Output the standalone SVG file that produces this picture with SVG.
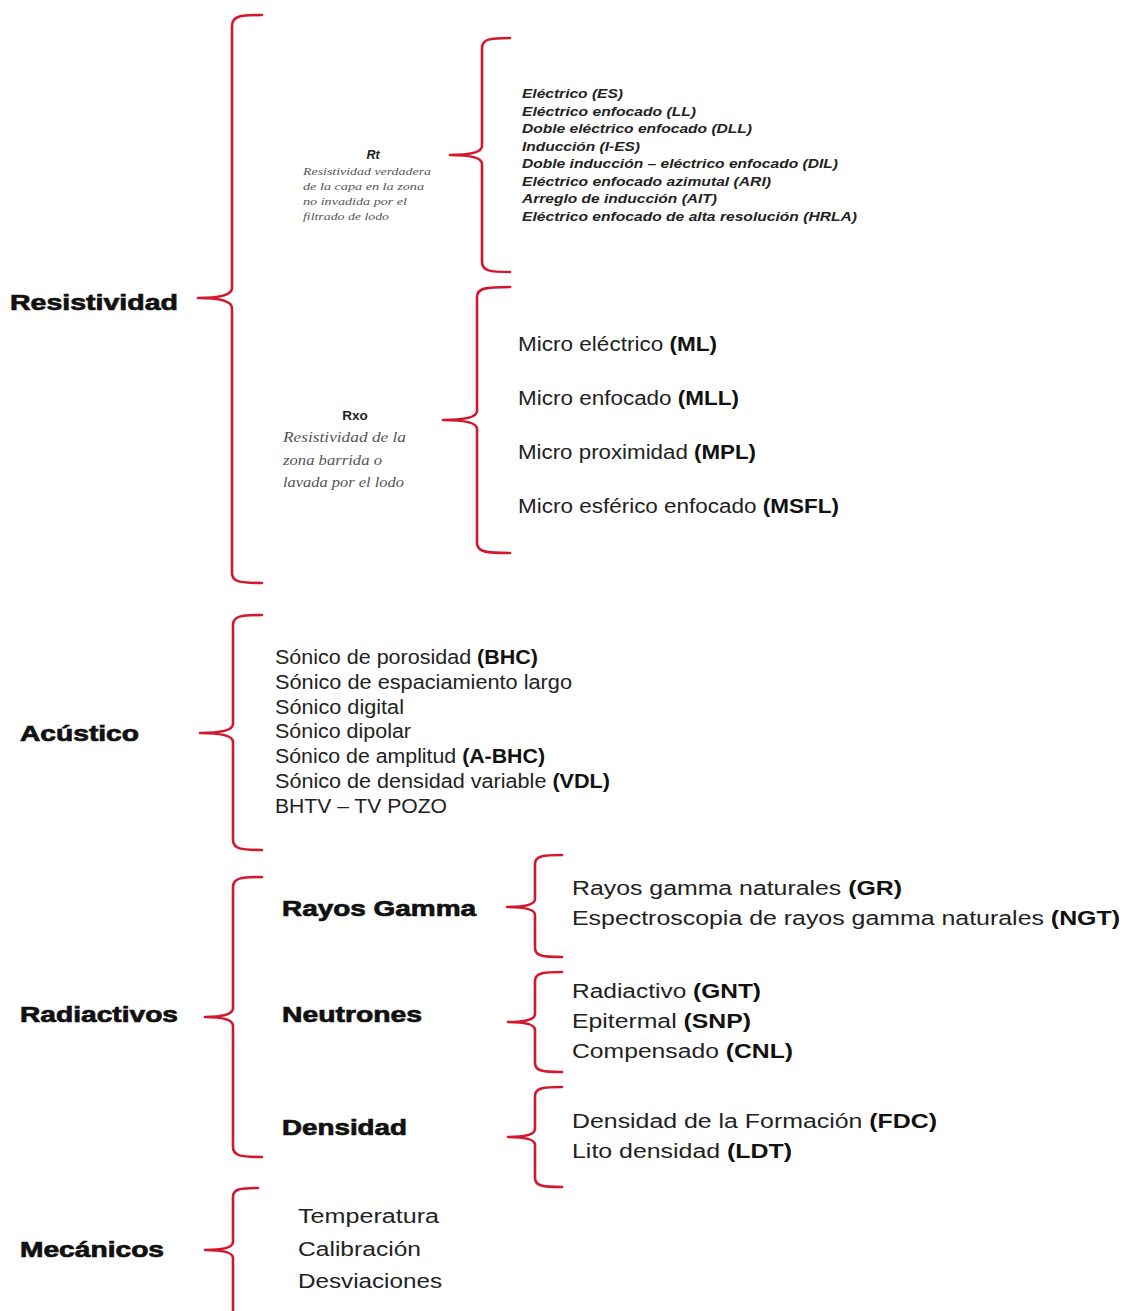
<svg xmlns="http://www.w3.org/2000/svg" width="1125" height="1311" viewBox="0 0 1125 1311">
<style>
.br{fill:none;stroke:#d3182e;stroke-width:2.6;stroke-linecap:round;stroke-linejoin:round}
.h{font-family:"Liberation Sans",Arial,sans-serif;font-weight:bold;font-size:22px;fill:#111;stroke:#111;stroke-width:0.7}
.t{font-family:"Liberation Sans",Arial,sans-serif;font-size:20px;fill:#222}
.b{font-weight:bold;fill:#111}
.s{font-family:"Liberation Sans",Arial,sans-serif;font-size:12.5px;font-weight:bold;font-style:italic;fill:#222}
.sr{font-family:"Liberation Serif","Times New Roman",serif;font-style:italic;fill:#555}
.lab{font-family:"Liberation Sans",Arial,sans-serif;font-weight:bold;fill:#222;text-anchor:middle}
</style>
<rect width="1125" height="1311" fill="#fff"/>
<g id="connectors">
<path class="br" d="M262 15 C240 15 232 16 232 26 L232 288 Q232 298 198 298 Q232 298 232 308 L232 573 C232 582 240 583 262 583"/>
<path class="br" d="M510 38 C490 38 482 39 482 48 L482 146 Q482 155 450 155 Q482 155 482 164 L482 262 C482 271 490 272 510 272"/>
<path class="br" d="M510 287 C486 287 477 288 477 297 L477 411 Q477 420 443 420 Q477 420 477 429 L477 543 C477 552 486 553 510 553"/>
<path class="br" d="M262 615 C241 615 233 616 233 625 L233 724 Q233 733 200 733 Q233 733 233 742 L233 840 C233 849 241 850 262 850"/>
<path class="br" d="M262 877 C241 877 233 878 233 887 L233 1008 Q233 1017 205 1017 Q233 1017 233 1026 L233 1147 C233 1156 241 1157 262 1157"/>
<path class="br" d="M562 855 C543 855 535 856 535 864 L535 899 Q535 907 507 907 Q535 907 535 915 L535 948 C535 956 543 957 562 957"/>
<path class="br" d="M562 972 C543 972 535 973 535 981 L535 1014 Q535 1022 508 1022 Q535 1022 535 1030 L535 1063 C535 1071 543 1072 562 1072"/>
<path class="br" d="M562 1087 C543 1087 535 1088 535 1096 L535 1129 Q535 1137 508 1137 Q535 1137 535 1145 L535 1178 C535 1186 543 1187 562 1187"/>
<path class="br" d="M258 1188 C240 1188 233 1189 233 1197 L233 1242 Q233 1250 205 1250 Q233 1250 233 1258 L233 1311"/>
</g>
<g id="resistividad"><text class="h" x="10" y="310" textLength="168" lengthAdjust="spacingAndGlyphs">Resistividad</text></g>
<g id="rt">
<text class="lab" x="373" y="159" font-size="12.5" font-style="italic">Rt</text>
<text class="sr" font-size="11">
<tspan x="303" y="175" textLength="128" lengthAdjust="spacingAndGlyphs">Resistividad verdadera</tspan>
<tspan x="303" y="190" textLength="121" lengthAdjust="spacingAndGlyphs">de la capa en la zona</tspan>
<tspan x="303" y="205" textLength="104" lengthAdjust="spacingAndGlyphs">no invadida por el</tspan>
<tspan x="303" y="220" textLength="86" lengthAdjust="spacingAndGlyphs">filtrado de lodo</tspan>
</text>
</g>
<g id="rt-list">
<text class="s" x="522" y="98" textLength="101" lengthAdjust="spacingAndGlyphs">Eléctrico (ES)</text>
<text class="s" x="522" y="116" textLength="174" lengthAdjust="spacingAndGlyphs">Eléctrico enfocado (LL)</text>
<text class="s" x="522" y="133" textLength="230" lengthAdjust="spacingAndGlyphs">Doble eléctrico enfocado (DLL)</text>
<text class="s" x="522" y="151" textLength="118" lengthAdjust="spacingAndGlyphs">Inducción (I-ES)</text>
<text class="s" x="522" y="168" textLength="316" lengthAdjust="spacingAndGlyphs">Doble inducción – eléctrico enfocado (DIL)</text>
<text class="s" x="522" y="186" textLength="249" lengthAdjust="spacingAndGlyphs">Eléctrico enfocado azimutal (ARI)</text>
<text class="s" x="522" y="203" textLength="195" lengthAdjust="spacingAndGlyphs">Arreglo de inducción (AIT)</text>
<text class="s" x="522" y="221" textLength="335" lengthAdjust="spacingAndGlyphs">Eléctrico enfocado de alta resolución (HRLA)</text>
</g>
<g id="rxo">
<text class="lab" x="355" y="420" font-size="13.5">Rxo</text>
<text class="sr" font-size="14.5">
<tspan x="283" y="442" textLength="123" lengthAdjust="spacingAndGlyphs">Resistividad de la</tspan>
<tspan x="283" y="465" textLength="99" lengthAdjust="spacingAndGlyphs">zona barrida o</tspan>
<tspan x="283" y="487" textLength="121" lengthAdjust="spacingAndGlyphs">lavada por el lodo</tspan>
</text>
</g>
<g id="rxo-list">
<text class="t" x="518" y="351" textLength="199" lengthAdjust="spacingAndGlyphs">Micro eléctrico <tspan class="b">(ML)</tspan></text>
<text class="t" x="518" y="405" textLength="221" lengthAdjust="spacingAndGlyphs">Micro enfocado <tspan class="b">(MLL)</tspan></text>
<text class="t" x="518" y="459" textLength="238" lengthAdjust="spacingAndGlyphs">Micro proximidad <tspan class="b">(MPL)</tspan></text>
<text class="t" x="518" y="513" textLength="321" lengthAdjust="spacingAndGlyphs">Micro esférico enfocado <tspan class="b">(MSFL)</tspan></text>
</g>
<g id="acustico"><text class="h" x="20" y="741" textLength="119" lengthAdjust="spacingAndGlyphs">Acústico</text></g>
<g id="acustico-list">
<text class="t" x="275" y="664" textLength="263" lengthAdjust="spacingAndGlyphs">Sónico de porosidad <tspan class="b">(BHC)</tspan></text>
<text class="t" x="275" y="689" textLength="297" lengthAdjust="spacingAndGlyphs">Sónico de espaciamiento largo</text>
<text class="t" x="275" y="714" textLength="129" lengthAdjust="spacingAndGlyphs">Sónico digital</text>
<text class="t" x="275" y="738" textLength="136" lengthAdjust="spacingAndGlyphs">Sónico dipolar</text>
<text class="t" x="275" y="763" textLength="270" lengthAdjust="spacingAndGlyphs">Sónico de amplitud <tspan class="b">(A-BHC)</tspan></text>
<text class="t" x="275" y="788" textLength="335" lengthAdjust="spacingAndGlyphs">Sónico de densidad variable <tspan class="b">(VDL)</tspan></text>
<text class="t" x="275" y="813" textLength="172" lengthAdjust="spacingAndGlyphs">BHTV – TV POZO</text>
</g>
<g id="radiactivos"><text class="h" x="20" y="1022" textLength="158" lengthAdjust="spacingAndGlyphs">Radiactivos</text></g>
<g id="rayos-gamma"><text class="h" x="282" y="916" textLength="194" lengthAdjust="spacingAndGlyphs">Rayos Gamma</text></g>
<g id="rayos-gamma-list">
<text class="t" x="572" y="895" textLength="330" lengthAdjust="spacingAndGlyphs">Rayos gamma naturales <tspan class="b">(GR)</tspan></text>
<text class="t" x="572" y="925" textLength="548" lengthAdjust="spacingAndGlyphs">Espectroscopia de rayos gamma naturales <tspan class="b">(NGT)</tspan></text>
</g>
<g id="neutrones"><text class="h" x="282" y="1022" textLength="140" lengthAdjust="spacingAndGlyphs">Neutrones</text></g>
<g id="neutrones-list">
<text class="t" x="572" y="998" textLength="189" lengthAdjust="spacingAndGlyphs">Radiactivo <tspan class="b">(GNT)</tspan></text>
<text class="t" x="572" y="1028" textLength="179" lengthAdjust="spacingAndGlyphs">Epitermal <tspan class="b">(SNP)</tspan></text>
<text class="t" x="572" y="1058" textLength="221" lengthAdjust="spacingAndGlyphs">Compensado <tspan class="b">(CNL)</tspan></text>
</g>
<g id="densidad"><text class="h" x="282" y="1135" textLength="125" lengthAdjust="spacingAndGlyphs">Densidad</text></g>
<g id="densidad-list">
<text class="t" x="572" y="1128" textLength="365" lengthAdjust="spacingAndGlyphs">Densidad de la Formación <tspan class="b">(FDC)</tspan></text>
<text class="t" x="572" y="1158" textLength="220" lengthAdjust="spacingAndGlyphs">Lito densidad <tspan class="b">(LDT)</tspan></text>
</g>
<g id="mecanicos"><text class="h" x="20" y="1257" textLength="144" lengthAdjust="spacingAndGlyphs">Mecánicos</text></g>
<g id="mecanicos-list">
<text class="t" x="298" y="1223" textLength="141" lengthAdjust="spacingAndGlyphs">Temperatura</text>
<text class="t" x="298" y="1256" textLength="123" lengthAdjust="spacingAndGlyphs">Calibración</text>
<text class="t" x="298" y="1288" textLength="144" lengthAdjust="spacingAndGlyphs">Desviaciones</text>
</g>
</svg>
